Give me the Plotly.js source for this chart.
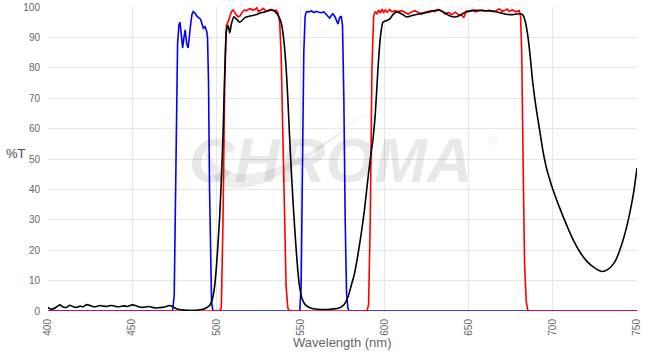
<!DOCTYPE html>
<html>
<head>
<meta charset="utf-8">
<script src="https://cdn.plot.ly/plotly-3.0.1.min.js"></script>
<style>html,body{margin:0;padding:0;background:#fff;}#chart{width:652px;height:354px;}</style>
</head>
<body>
<div id="chart"></div>
<script>
// Wavelength (nm) and %T for each curve
const blackWl = [400,401.5,403,405,407,409,411,413,415,417,419,421,423,425,427,429,431,433,435,437,439,441,443,445,447,450,452,454,456,458,460,462,464,466,468,470,472,474,476,478,481,484,487,490,492,494,496,497.5,499,500,501,502,503,504,505,506,507,508,509,510.5,512,514,517,520,524,526,529,533,535,537,538.5,539.5,540.5,541.5,542.5,543.5,544.5,545.5,546.5,547.5,548.5,549.5,551,553,556,560,565,570,573,575,577,578.5,580,582,584,586,588,590,591.5,593,594.5,596,597.5,599,601,603,605,607,610,613,617,621,626,632,636,639,642,645,648,653,658,664,668,672,676,680,682,683.5,685,686.5,688,690,692,694,696,698,700,704,708,712,716,720,724,729,733,736,738,741,744,746,748,750];
const blackT = [1.2,0.6,0.7,1.3,2.0,1.3,1.2,1.9,1.4,1.2,1.6,1.4,2.1,1.8,1.4,1.5,1.8,1.6,1.5,1.8,1.7,1.4,1.5,1.7,1.5,2.0,1.8,1.4,1.2,1.3,1.5,1.2,1.0,1.1,1.2,1.4,1.8,1.5,0.8,0.5,0.3,0.2,0.2,0.4,0.6,1.0,1.8,3.5,8,14,22,31,43,58,78,92,94,91.5,94.5,96.8,96,95,96.5,97,97.5,98,98.4,99,98.5,97,95,92,87,80,70,58,47,37,28,20,13,8,4,2,1,0.6,0.5,0.7,1.0,1.6,3,5,8,12,18,25,33,43,50,56,65,79,90,95,95.5,96,97.5,98.4,97.8,96.7,97.3,97.8,98.3,99,98,97,96.7,97.3,98.3,98.9,98.8,98.7,98.2,97.6,97.5,97.8,97.5,95.5,91,84,75.5,67,60,53,47.5,43.5,40,34,28.5,23.5,19.5,16.5,14.5,13,13.8,15.5,17.5,22,28,33,39,47];

const redWl = [400,502,503,504,505,506,507,508,509,510,511,512,513,514,515,516.5,518,520,521.5,523,524,525,526.5,528,529.5,531,532.5,534,535.5,536.7,537.7,538.5,539.5,540.5,541.5,542.5,543.5,589.5,590.5,591.5,592.5,593.5,594.5,595.5,596.5,597.5,598.5,599.5,600.5,601.5,603,604.5,606,608,610,612,614,616,618,620,622,624,626,628,630,632,634,636,638,640,642,644,645.5,647,648.6,650,652,654,656,658,660,662,664,666,668,670,672,673,674,676,678,680,680.8,681.5,682.3,683.2,684.2,685.2,750];
const redT = [0,0,1,30,75,94,95,97,98.5,99,98,97.4,96.8,97,98,99,98.8,99.5,99,99.2,99.8,98.5,99,99.5,98.7,99,99.2,98.8,99,98,94.7,85,60,30,8,1,0,0,2,30,80,97,98.5,97.8,99,98,99.3,98.2,99,98.3,99.2,98.4,98.8,98.5,98.8,98.3,97.6,98.4,98.8,98.2,97.6,98.3,98.6,98.8,98.5,99.2,98.7,97.7,98.2,97.5,98.3,97.4,97.6,96.5,98.7,98.5,99,98.4,98.8,99,98.6,99,98.5,98.8,99.4,98.6,99,99.3,98.5,99.1,98.4,98.8,97,85,50,15,3,0,0];

const blueWl = [400,474,475,476,477,477.8,478.4,479.2,480,480.8,481.5,482.4,483.3,484.5,485.5,486.3,487.3,488.5,490.6,491.5,492.3,493.3,494.3,494.8,495.4,496,496.6,497.2,498,549.6,550.4,551.2,552,552.8,553.6,555,556.5,558,559.5,561,562.5,564,565.5,566.5,567.4,568.3,569.3,570.5,571.5,572.3,573.3,574.2,575,575.8,576.6,577.4,578.2,579,750];
const blueT = [0,0,5,50,88,94,95,91,86.5,90,92.5,88,86.5,93,97.5,98.5,98,97,96,94.5,93,93.5,92,90,75,40,12,3,0,0,8,45,85,97,98.5,98.4,98.7,98.2,98.6,98.3,98.1,98.4,97.3,96.8,96.3,97.2,97.8,96.8,95.6,94.4,96.5,97,94,70,30,6,1,0,0];

const xTicks = [400,450,500,550,600,650,700,750];
const yTicks = [0,10,20,30,40,50,60,70,80,90,100];

const P = (px, py) => [(px - 48) / 589, (311 - py) / 304];
const a = P(205,150), b = P(215,245), c = P(375,105), d = P(240,215);
const swoosh = `M ${a[0]} ${a[1]} Q ${b[0]} ${b[1]} ${c[0]} ${c[1]} Q ${d[0]} ${d[1]} ${a[0]} ${a[1]} Z`;

const traces = [
  {x: blueWl, y: blueT, type: 'scatter', mode: 'lines', line: {color: '#0000ff', width: 1.6}, hoverinfo: 'skip'},
  {x: redWl, y: redT, type: 'scatter', mode: 'lines', line: {color: '#ff0000', width: 1.6}, hoverinfo: 'skip'},
  {x: blackWl, y: blackT, type: 'scatter', mode: 'lines', line: {color: '#000000', width: 1.6, shape: 'spline', smoothing: 0.6}, hoverinfo: 'skip'}
];

const font = {family: 'Liberation Sans, Arial, sans-serif', size: 10, color: '#666'};
const layout = {
  width: 652, height: 354,
  margin: {l: 48, r: 15, t: 7, b: 43, pad: 0},
  paper_bgcolor: '#fff', plot_bgcolor: '#fff',
  showlegend: false,
  font: font,
  xaxis: {
    range: [400, 750], tickvals: xTicks, ticktext: xTicks.map(String),
    tickangle: -90, showgrid: true, gridcolor: '#e6e6e6', gridwidth: 1,
    zeroline: false, showline: false, ticks: '', ticklabelstandoff: 5,
    tickfont: {family: font.family, size: 10, color: '#666'}
  },
  yaxis: {
    range: [0, 100], tickvals: yTicks, ticktext: yTicks.map(String),
    showgrid: true, gridcolor: '#e6e6e6', gridwidth: 1,
    zeroline: false, showline: false, ticks: '', ticklabelstandoff: 7,
    tickfont: {family: font.family, size: 10, color: '#666'}
  },
  shapes: [
    {type: 'path', xref: 'paper', yref: 'paper', path: swoosh, fillcolor: 'rgba(0,0,0,0.07)', line: {width: 0}, layer: 'below'}
  ],
  annotations: [
    {text: '%T', xref: 'paper', yref: 'paper', x: (4 - 48) / 589, y: (311 - 153) / 304, xanchor: 'left', yanchor: 'middle', showarrow: false, font: {family: font.family, size: 13, color: '#3f4d5e'}},
    {text: 'Wavelength (nm)', xref: 'paper', yref: 'paper', x: 0.5, y: (311 - 343) / 304, xanchor: 'center', yanchor: 'middle', showarrow: false, font: {family: font.family, size: 13, color: '#666'}},
    {text: '<b><i>CHROMA</i></b>', xref: 'paper', yref: 'paper', x: (330 - 48) / 589, y: (311 - 160) / 304, xanchor: 'center', yanchor: 'middle', showarrow: false, font: {family: font.family, size: 63, color: 'rgba(0,0,0,0.09)'}},
    {text: '®', xref: 'paper', yref: 'paper', x: (486 - 48) / 589, y: (311 - 140) / 304, xanchor: 'left', yanchor: 'middle', showarrow: false, font: {family: font.family, size: 13, color: 'rgba(0,0,0,0.1)'}}
  ]
};

Plotly.newPlot('chart', traces, layout, {staticPlot: true, displayModeBar: false});
</script>
</body>
</html>
